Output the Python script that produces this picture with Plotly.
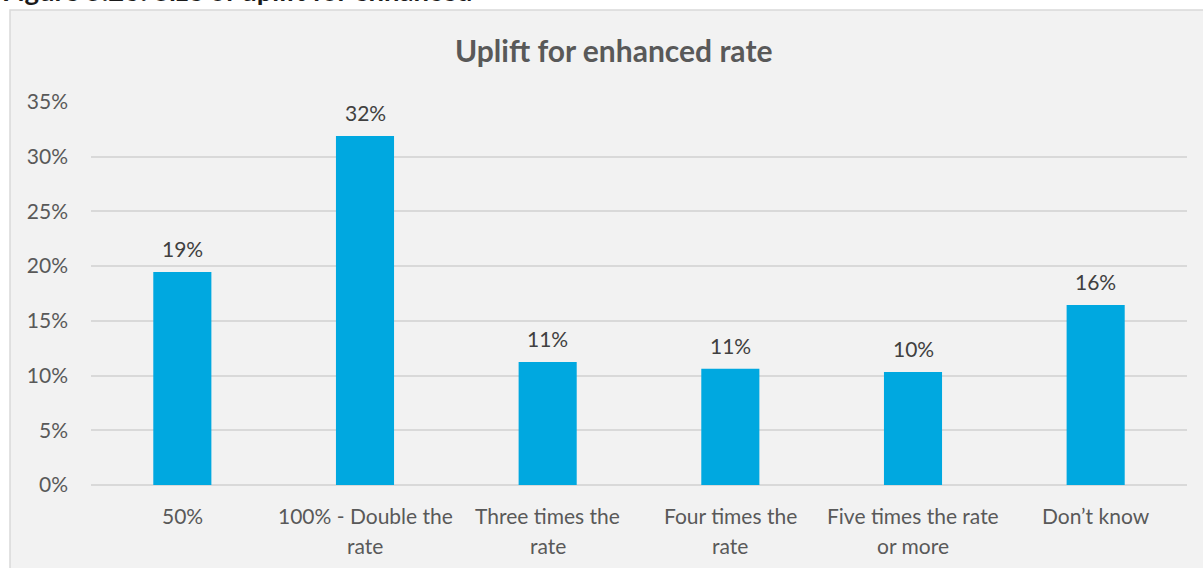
import plotly.graph_objects as go

# Survey responses: preferred uplift for the enhanced rate
categories = [
    "50%",
    "100% - Double the<br>rate",
    "Three times the<br>rate",
    "Four times the<br>rate",
    "Five times the rate<br>or more",
    "Don\u2019t know",
]
shares = [0.1947, 0.319, 0.1124, 0.1063, 0.1033, 0.1645]
y_ticks = [0, 0.05, 0.10, 0.15, 0.20, 0.25, 0.30, 0.35]

W, H = 1203, 568
L, R, T, B = 91, 16, 102, 83
plot_w = W - L - R
plot_h = H - T - B


def px_x(px):
    return (px - L) / plot_w


def px_y(py):
    return (H - B - py) / plot_h


FONT = "Lato"
BAR = "#00A8E0"
GRID = "#D9D9D9"

fig = go.Figure()
fig.add_trace(
    go.Bar(
        x=categories,
        y=shares,
        marker=dict(color=BAR, line=dict(width=0)),
        width=0.318,
        hoverinfo="skip",
    )
)

annotations = []
# value labels above bars
for c, v in zip(categories, shares):
    annotations.append(
        dict(
            x=c, y=v, xref="x", yref="y",
            text=f"{round(v * 100):.0f}%",
            showarrow=False, yanchor="bottom", yshift=9,
            font=dict(family=FONT, size=21, color="#404040"),
        )
    )
# category labels, one annotation per line for wider line spacing
for c in categories:
    for i, line in enumerate(c.split("<br>")):
        annotations.append(
            dict(
                x=c, y=px_y(515 + 30 * i), xref="x", yref="paper",
                text=line, showarrow=False, yanchor="middle",
                font=dict(family=FONT, size=21, color="#595959"),
            )
        )
# chart title
annotations.append(
    dict(
        x=px_x(613), y=px_y(50), xref="paper", yref="paper",
        text="<b>Uplift for enhanced rate</b>", showarrow=False,
        xanchor="center", yanchor="middle",
        font=dict(family=FONT, size=30, color="#595959"),
    )
)
# figure caption at the top of the page
annotations.append(
    dict(
        x=px_x(0), y=px_y(9), xref="paper", yref="paper",
        text="<b>Figure 5.26: Size of uplift for enhanced</b>", showarrow=False,
        xanchor="left", yanchor="bottom",
        font=dict(family=FONT, size=27.5, color="#1a1a1a"),
    )
)

shapes = [
    dict(
        type="rect", xref="paper", yref="paper",
        x0=px_x(10), x1=px_x(1215), y0=px_y(600), y1=px_y(10),
        fillcolor="#F2F2F2", line=dict(color="#D9D9D9", width=1.5),
        layer="below",
    )
]

fig.update_layout(
    width=W, height=H,
    margin=dict(l=L, r=R, t=T, b=B, pad=0),
    paper_bgcolor="white",
    plot_bgcolor="rgba(0,0,0,0)",
    showlegend=False,
    bargap=0.68,
    annotations=annotations,
    shapes=shapes,
    xaxis=dict(
        showticklabels=False, showgrid=False, zeroline=False,
        showline=False, ticks="", fixedrange=True,
    ),
    yaxis=dict(
        range=[0, 0.35],
        tickvals=y_ticks,
        tickformat=".0%",
        showgrid=True, gridcolor=GRID, gridwidth=1.5,
        zeroline=True, zerolinecolor=GRID, zerolinewidth=1.5,
        showline=False, ticks="",
        ticklabelstandoff=22,
        tickfont=dict(family=FONT, size=21, color="#595959"),
        fixedrange=True,
    ),
)

fig.write_html("out.html")
